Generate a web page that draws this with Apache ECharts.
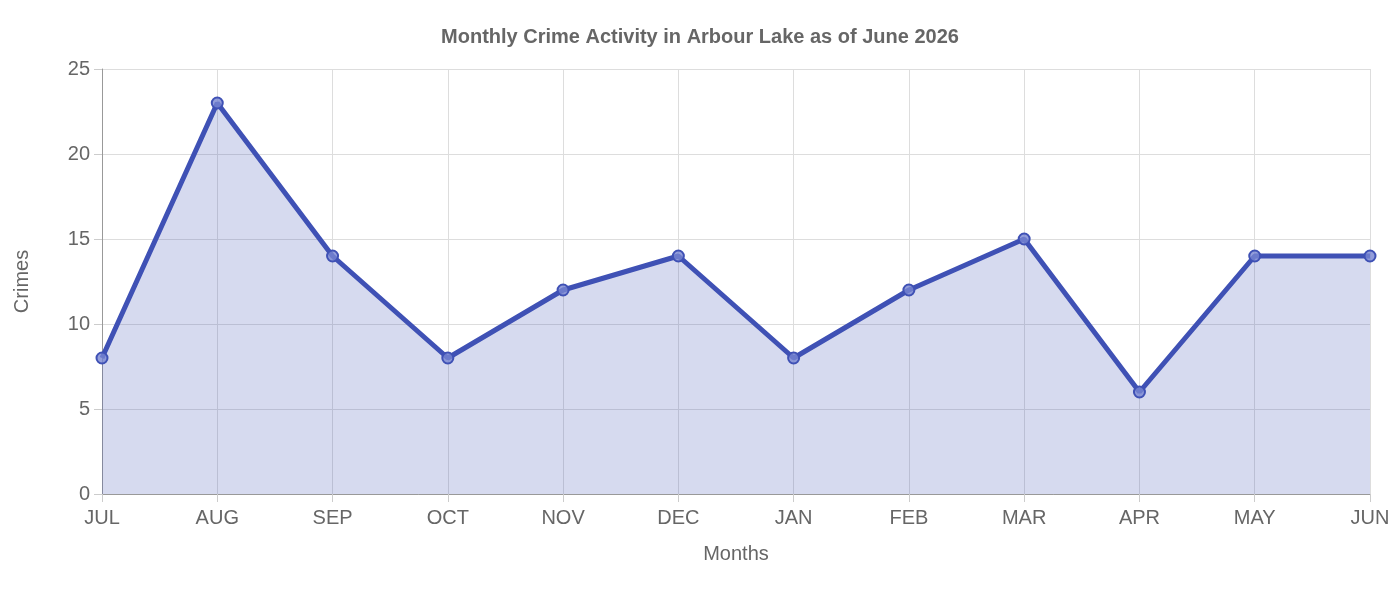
<!DOCTYPE html>
<html><head><meta charset="utf-8">
<script src="https://cdn.jsdelivr.net/npm/echarts@6/dist/echarts.min.js"></script>
<style>html,body{margin:0;padding:0;background:#fff}#c{width:1400px;height:600px}</style>
</head><body><div id="c"></div>
<script>
const categories = ['JUL','AUG','SEP','OCT','NOV','DEC','JAN','FEB','MAR','APR','MAY','JUN'];
const crimes = [8,23,14,8,12,14,8,12,15,6,14,14];
const chart = echarts.init(document.getElementById('c'));
const F = 'Liberation Sans, Arial, sans-serif';
chart.setOption({
  animation:false,
  title:{text:'Monthly Crime Activity in Arbour Lake as of June 2026',left:'center',top:22,
    textStyle:{fontFamily:F,fontSize:20,fontWeight:'bold',color:'#666'}},
  grid:{left:102,right:30,top:69,bottom:106},
  xAxis:{type:'category',data:categories,boundaryGap:false,name:'Months',nameLocation:'middle',nameGap:50,
    nameTextStyle:{fontFamily:F,fontSize:20,color:'#666'},
    axisLine:{lineStyle:{color:'#999'}},axisTick:{show:true,alignWithLabel:true,length:8,lineStyle:{color:'#ccc'}},
    axisLabel:{fontFamily:F,fontSize:20,color:'#666',margin:14},
    splitLine:{show:true,lineStyle:{color:'#ddd'}}},
  yAxis:{type:'value',min:0,max:25,interval:5,name:'Crimes',nameLocation:'middle',nameGap:70,
    nameTextStyle:{fontFamily:F,fontSize:20,color:'#666'},
    axisLine:{show:true,lineStyle:{color:'#999'}},axisTick:{show:true,length:8,lineStyle:{color:'#ccc'}},
    axisLabel:{fontFamily:F,fontSize:20,color:'#666',margin:12},
    splitLine:{lineStyle:{color:'#ddd'}}},
  series:[{type:'line',data:crimes,symbol:'circle',symbolSize:11,
    lineStyle:{color:'#3f51b5',width:5},
    itemStyle:{color:'rgba(120,134,210,0.8)',borderColor:'#3f51b5',borderWidth:2},
    areaStyle:{color:'rgba(63,81,181,0.3)'}}]
});
</script></body></html>
